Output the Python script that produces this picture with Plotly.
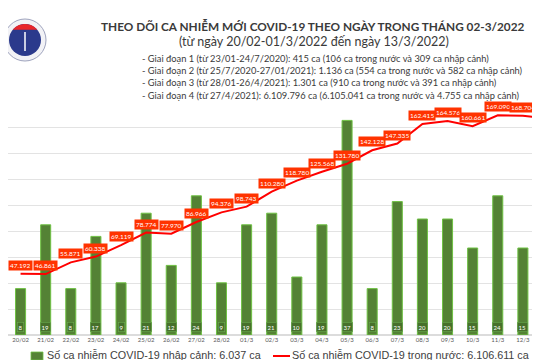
import numpy as np
import plotly.graph_objects as go

categories = ["20/02", "21/02", "22/02", "23/02", "24/02", "25/02", "26/02", "27/02",
              "28/02", "01/3", "02/3", "03/3", "04/3", "05/3", "06/3", "07/3",
              "08/3", "09/3", "10/3", "11/3", "12/3", "13/3"]
imported = [8, 19, 8, 17, 9, 21, 12, 24, 9, 19, 21, 10, 19, 37, 8, 23, 20, 20, 15, 24, 15, 15]
domestic = [47192, 46861, 55871, 60338, 69119, 78774, 77970, 86966, 94376, 98743,
            110280, 118780, 125568, 131780, 142128, 147335, 162415, 164576, 160661,
            169090, 168704, 166627]

title = "THEO DÕI CA NHIỄM MỚI COVID-19 THEO NGÀY TRONG THÁNG 02-3/2022"
subtitle = "(từ ngày 20/02-01/3/2022 đến ngày 13/3/2022)"
info_lines = [
    "- Giai đoạn 1 (từ 23/01-24/7/2020): 415 ca (106 ca trong nước và 309 ca nhập cảnh)",
    "- Giai đoạn 2 (từ 25/7/2020-27/01/2021): 1.136 ca (554 ca trong nước và 582 ca nhập cảnh)",
    "- Giai đoạn 3 (từ 28/01-26/4/2021): 1.301 ca (910 ca trong nước và 391 ca nhập cảnh)",
    "- Giai đoạn 4 (từ 27/4/2021): 6.109.796 ca (6.105.041 ca trong nước và 4.755 ca nhập cảnh)",
]
legend_bar = "Số ca nhiễm COVID-19 nhập cảnh: 6.037 ca"
legend_line = "Số ca nhiễm COVID-19 trong nước: 6.106.611 ca"

W, H = 540, 360
T, B = 95, 33
PLOT_BOTTOM = H - B
PLOT_H = H - T - B


def py(ypx):
    return (PLOT_BOTTOM - ypx) / PLOT_H


def px(xpx):
    return xpx / W


def vn(v):
    return f"{v:,}".replace(",", ".")


xs = list(range(len(categories)))

fig = go.Figure()
fig.add_trace(go.Bar(
    x=xs, y=imported, width=0.4,
    marker=dict(color="#548235", line=dict(color="#6fc244", width=1)),
    yaxis="y", showlegend=False, hoverinfo="skip",
))
fig.add_trace(go.Scatter(
    x=xs, y=domestic, mode="lines",
    line=dict(color="#ff0000", width=2),
    yaxis="y2", showlegend=False, hoverinfo="skip", cliponaxis=True,
))

annotations = []
for i, v in enumerate(imported):
    annotations.append(dict(
        x=i, y=0, xref="x", yref="y", text=vn(v), showarrow=False,
        yanchor="bottom", yshift=3,
        font=dict(family="Lato", size=6, color="white"),
        bgcolor="#47702b", bordercolor="#6aa84f", borderwidth=0.6, borderpad=1,
    ))
for i, v in enumerate(domestic):
    annotations.append(dict(
        x=i, y=v, xref="x", yref="y2", text=vn(v), showarrow=False,
        yanchor="bottom", yshift=3,
        font=dict(family="Lato", size=6.5, color="white"),
        bgcolor="#ff3300", borderpad=1,
    ))

annotations.append(dict(
    x=px(305), y=py(18), xref="paper", yref="paper", text="<b>" + title + "</b>",
    showarrow=False, xanchor="center", yanchor="middle",
    font=dict(family="Lato", size=11.8, color="#3a3a3a"),
))
annotations.append(dict(
    x=px(306), y=py(34), xref="paper", yref="paper", text=subtitle,
    showarrow=False, xanchor="center", yanchor="middle",
    font=dict(family="Lato", size=12.5, color="#3a3a3a"),
))
for k, line in enumerate(info_lines):
    annotations.append(dict(
        x=px(132), y=py(50 + 12.4 * k), xref="paper", yref="paper", text=line,
        showarrow=False, xanchor="left", yanchor="middle",
        font=dict(family="Lato", size=9.3, color="#3a3a3a"),
    ))

annotations.append(dict(
    x=px(37), y=py(347), xref="paper", yref="paper", text=legend_bar,
    showarrow=False, xanchor="left", yanchor="middle",
    font=dict(family="Liberation Sans", size=10.8, color="#404040"),
))
annotations.append(dict(
    x=px(282), y=py(347), xref="paper", yref="paper", text=legend_line,
    showarrow=False, xanchor="left", yanchor="middle",
    font=dict(family="Liberation Sans", size=10.8, color="#404040"),
))

shapes = [
    dict(type="rect", xref="paper", yref="paper", x0=px(23), x1=px(35), y0=py(352), y1=py(344),
         fillcolor="#548235", line=dict(color="#6fc244", width=0.8)),
    dict(type="line", xref="paper", yref="paper", x0=px(265), x1=px(282), y0=py(348), y1=py(348),
         line=dict(color="#ff0000", width=2)),
]

# logo (approximate)
cx, cy = 17, 32
shapes.append(dict(type="circle", xref="paper", yref="paper",
                   x0=px(cx - 21), x1=px(cx + 21), y0=py(cy + 21), y1=py(cy - 21),
                   fillcolor="#f2f2f6", line=dict(color="#9ea3bd", width=1)))
shapes.append(dict(type="circle", xref="paper", yref="paper",
                   x0=px(cx - 16), x1=px(cx + 16), y0=py(cy + 16), y1=py(cy - 16),
                   fillcolor="#2b3a8c", line=dict(color="#2b3a8c", width=0)))
ang = np.linspace(np.pi * 0.22, np.pi * 0.78, 20)
pts = [(cx + 16 * np.cos(a), cy - 16 * np.sin(a)) for a in ang]
path = "M " + " L ".join(f"{px(x):.5f},{py(y):.5f}" for x, y in pts) + " Z"
shapes.append(dict(type="path", xref="paper", yref="paper", path=path,
                   fillcolor="#e8262b", line=dict(width=0)))
shapes.append(dict(type="line", xref="paper", yref="paper",
                   x0=px(cx), x1=px(cx), y0=py(cy + 11), y1=py(cy - 8),
                   line=dict(color="white", width=1.5)))

fig.update_layout(
    width=W, height=H,
    margin=dict(l=0, r=0, t=T, b=B),
    paper_bgcolor="white", plot_bgcolor="white",
    xaxis=dict(range=[-0.5, 21.0], tickvals=xs, ticktext=categories,
               tickfont=dict(family="Lato", size=6, color="#595959"),
               showgrid=False, zeroline=False, showline=False, ticks=""),
    yaxis=dict(range=[0, 40], showgrid=False, zeroline=False, showticklabels=False),
    yaxis2=dict(range=[0, 178500], overlaying="y", side="right", dtick=20000,
                showgrid=True, gridcolor="#e3e3e3", gridwidth=1,
                zeroline=True, zerolinecolor="#dcdcdc", showticklabels=False),
    annotations=annotations,
    shapes=shapes,
    bargap=0.6,
)

fig.write_html("out.html")
